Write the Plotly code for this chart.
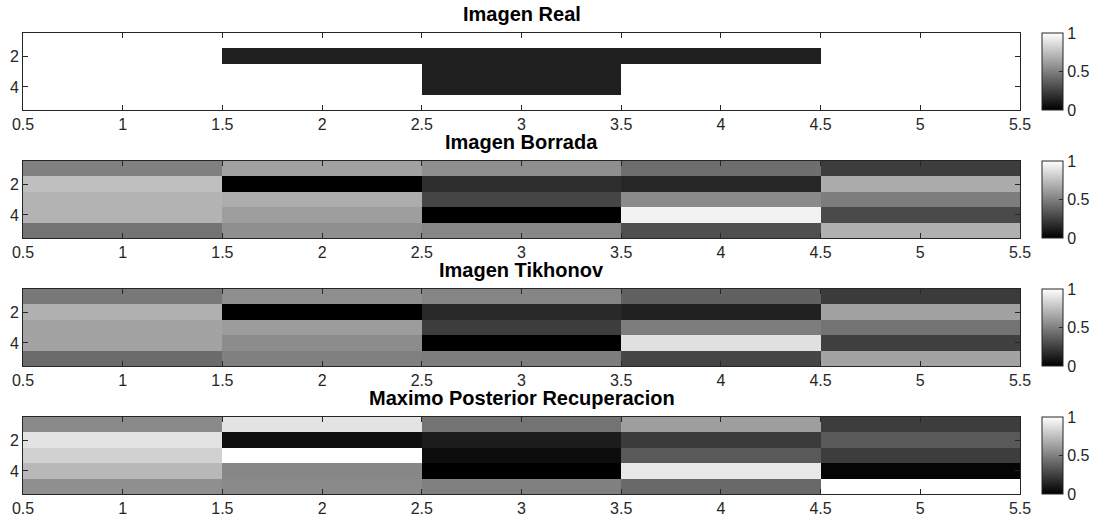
import plotly.graph_objects as go

# 5x5 images, rows 1..5 (top to bottom), columns 1..5
cols = [1, 2, 3, 4, 5]
rows = [1, 2, 3, 4, 5]

titles = ["Imagen Real", "Imagen Borrada", "Imagen Tikhonov",
          "Maximo Posterior Recuperacion"]

img_real = [
    [1.00, 1.00, 1.00, 1.00, 1.00],
    [1.00, 0.12, 0.12, 0.12, 1.00],
    [1.00, 1.00, 0.12, 1.00, 1.00],
    [1.00, 1.00, 0.12, 1.00, 1.00],
    [1.00, 1.00, 1.00, 1.00, 1.00],
]
img_borrada = [
    [0.50, 0.63, 0.56, 0.43, 0.24],
    [0.75, 0.00, 0.18, 0.15, 0.67],
    [0.70, 0.68, 0.27, 0.54, 0.49],
    [0.70, 0.62, 0.00, 0.95, 0.29],
    [0.45, 0.56, 0.53, 0.31, 0.69],
]
img_tikhonov = [
    [0.47, 0.56, 0.52, 0.38, 0.23],
    [0.69, 0.00, 0.16, 0.13, 0.63],
    [0.64, 0.61, 0.24, 0.49, 0.45],
    [0.64, 0.55, 0.00, 0.88, 0.25],
    [0.42, 0.50, 0.49, 0.27, 0.64],
]
img_map = [
    [0.54, 0.89, 0.45, 0.62, 0.24],
    [0.89, 0.06, 0.11, 0.23, 0.35],
    [0.82, 1.00, 0.05, 0.35, 0.24],
    [0.72, 0.53, 0.00, 0.91, 0.02],
    [0.56, 0.54, 0.50, 0.41, 1.00],
]
images = [img_real, img_borrada, img_tikhonov, img_map]

x_ticks = [0.5, 1, 1.5, 2, 2.5, 3, 3.5, 4, 4.5, 5, 5.5]
x_ticklabels = ["0.5", "1", "1.5", "2", "2.5", "3", "3.5", "4", "4.5", "5", "5.5"]
y_ticks = [2, 4]
cbar_ticks = [0, 0.5, 1]

W, H = 1097, 523
FONT = "Liberation Sans, Arial, Helvetica, sans-serif"
TXT = "#262626"
TICK_SIZE = 16

x_left, x_right = 23, 1020
panel_tops = [33, 161, 289, 417]
panel_h = 77

fig = go.Figure()
layout = dict(
    template="none",
    width=W, height=H,
    margin=dict(l=0, r=0, t=0, b=0, autoexpand=False),
    paper_bgcolor="white", plot_bgcolor="white",
    font=dict(family=FONT, size=TICK_SIZE, color=TXT),
    showlegend=False,
    annotations=[],
)

gray = [[0, "black"], [1, "white"]]

for i, (z, title) in enumerate(zip(images, titles)):
    n = "" if i == 0 else str(i + 1)
    top = panel_tops[i]
    bot = top + panel_h
    y0 = 1 - bot / H
    y1 = 1 - top / H
    fig.add_trace(go.Heatmap(
        x=cols, y=rows, z=z,
        zmin=0, zmax=1, colorscale=gray,
        xaxis="x" + n, yaxis="y" + n,
        hoverinfo="skip",
        colorbar=dict(
            x=1042 / W, xanchor="left", xpad=0, ypad=0,
            thickness=21, len=(y1 - y0), lenmode="fraction",
            y=(y0 + y1) / 2, yanchor="middle",
            tickvals=cbar_ticks, ticktext=["0", "0.5", "1"],
            ticks="inside", ticklen=4, tickcolor=TXT,
            outlinewidth=1, outlinecolor=TXT,
            tickfont=dict(family=FONT, size=TICK_SIZE, color=TXT),
        ),
    ))
    layout["xaxis" + n] = dict(
        domain=[x_left / W, x_right / W], anchor="y" + n,
        range=[0.5, 5.5], tickvals=x_ticks, ticktext=x_ticklabels,
        ticks="inside", ticklen=5, tickcolor=TXT, tickwidth=1,
        showline=True, linecolor=TXT, linewidth=1, mirror="ticks",
        showgrid=False, zeroline=False, automargin=False,
        tickfont=dict(family=FONT, size=TICK_SIZE, color=TXT),
    )
    layout["yaxis" + n] = dict(
        domain=[y0, y1], anchor="x" + n,
        range=[5.5, 0.5], tickvals=y_ticks,
        ticks="inside", ticklen=5, tickcolor=TXT, tickwidth=1,
        showline=True, linecolor=TXT, linewidth=1, mirror="ticks",
        showgrid=False, zeroline=False, automargin=False,
        tickfont=dict(family=FONT, size=TICK_SIZE, color=TXT),
    )
    layout["annotations"].append(dict(
        text="<b>" + title + "</b>", xref="paper", yref="paper",
        x=(x_left + x_right) / 2 / W, y=1 - (top - 19) / H,
        xanchor="center", yanchor="middle", showarrow=False,
        font=dict(family=FONT, size=20, color="black"),
    ))

fig.update_layout(**layout)
fig.write_html("out.html")
